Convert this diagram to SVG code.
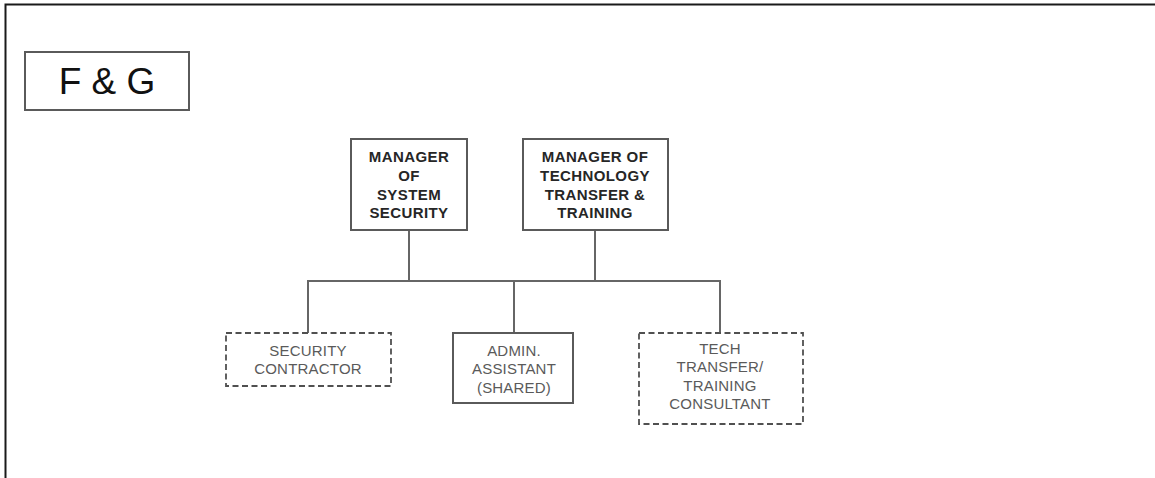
<svg xmlns="http://www.w3.org/2000/svg" width="1155" height="478" viewBox="0 0 1155 478">
  <style>
    .frame { fill: none; stroke: #1a1a1a; stroke-width: 2; }
    .box { fill: #ffffff; stroke: #5a5a5a; stroke-width: 2; }
    .dashed { fill: #ffffff; stroke: #505050; stroke-width: 1.8; stroke-dasharray: 6 3.5; }
    .link { fill: none; stroke: #666666; stroke-width: 2; }
    .title { font-family: "Liberation Sans", Arial, sans-serif; font-size: 37px; fill: #111111; text-anchor: middle; }
    .head { font-family: "Liberation Sans", Arial, sans-serif; font-size: 15px; font-weight: bold; fill: #262626; text-anchor: middle; letter-spacing: 0.4px; }
    .staff { font-family: "Liberation Sans", Arial, sans-serif; font-size: 15px; fill: #5a5a5a; text-anchor: middle; letter-spacing: 0.2px; }
  </style>

  <rect width="1155" height="478" fill="#ffffff"/>
  <!-- page frame: left and top edges -->
  <path class="frame" d="M5.5 478 V4.5 H1155"/>

  <!-- title -->
  <g id="title">
    <rect class="box" x="25" y="52" width="164" height="58"/>
    <text class="title" x="107" y="94">F &amp; G</text>
  </g>

  <!-- reporting lines -->
  <g id="connectors">
    <path class="link" d="M409 230 V281"/>
    <path class="link" d="M595 230 V281"/>
    <path class="link" d="M308 333 V281 H720 V333"/>
    <path class="link" d="M514 281 V333"/>
  </g>

  <g id="mgr-security">
    <rect class="box" x="351" y="139" width="116" height="91"/>
    <text class="head" x="409" y="162">MANAGER</text>
    <text class="head" x="409" y="181">OF</text>
    <text class="head" x="409" y="200">SYSTEM</text>
    <text class="head" x="409" y="218">SECURITY</text>
  </g>

  <g id="mgr-tech-transfer">
    <rect class="box" x="523" y="139" width="145" height="91"/>
    <text class="head" x="595" y="162">MANAGER OF</text>
    <text class="head" x="595" y="181">TECHNOLOGY</text>
    <text class="head" x="595" y="200">TRANSFER &amp;</text>
    <text class="head" x="595" y="218">TRAINING</text>
  </g>

  <g id="security-contractor">
    <rect class="dashed" x="226" y="333" width="165" height="53"/>
    <text class="staff" x="308" y="356">SECURITY</text>
    <text class="staff" x="308" y="374">CONTRACTOR</text>
  </g>

  <g id="admin-assistant">
    <rect class="box" x="453" y="333" width="120" height="70"/>
    <text class="staff" x="514" y="356">ADMIN.</text>
    <text class="staff" x="514" y="374">ASSISTANT</text>
    <text class="staff" x="514" y="393">(SHARED)</text>
  </g>

  <g id="tech-transfer-consultant">
    <rect class="dashed" x="639" y="333" width="164" height="91"/>
    <text class="staff" x="720" y="354">TECH</text>
    <text class="staff" x="720" y="372">TRANSFER/</text>
    <text class="staff" x="720" y="391">TRAINING</text>
    <text class="staff" x="720" y="409">CONSULTANT</text>
  </g>
</svg>
